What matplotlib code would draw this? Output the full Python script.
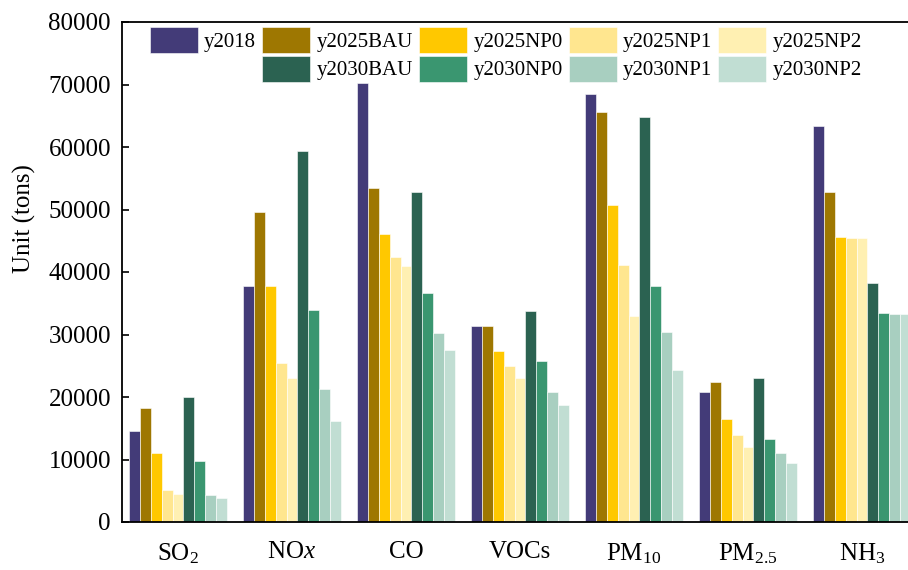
import numpy as np
import matplotlib
matplotlib.use("Agg")
import matplotlib.pyplot as plt
from matplotlib.patches import Patch

plt.rcParams["font.family"] = ["Liberation Serif", "DejaVu Serif"]
plt.rcParams["mathtext.fontset"] = "custom"
plt.rcParams["mathtext.rm"] = "Liberation Serif"
plt.rcParams["mathtext.it"] = "Liberation Serif:italic"

pollutants = [r"SO$_2$", r"NO$x$", "CO", "VOCs", r"PM$_{10}$", r"PM$_{2.5}$", r"NH$_3$"]

scenarios = ["y2018", "y2025BAU", "y2025NP0", "y2025NP1", "y2025NP2",
             "y2030BAU", "y2030NP0", "y2030NP1", "y2030NP2"]

y2018     = [14600, 37700, 70300, 31300, 68500, 20800, 63300]
y2025BAU  = [18300, 49600, 53500, 31300, 65600, 22400, 52800]
y2025NP0  = [11050, 37800, 46100, 27400, 50800, 16500, 45600]
y2025NP1  = [5050, 25400, 42400, 24900, 41100, 13900, 45500]
y2025NP2  = [4500, 23000, 41000, 23100, 32900, 12050, 45500]
y2030BAU  = [20050, 59400, 52800, 33800, 64800, 23000, 38200]
y2030NP0  = [9800, 33900, 36600, 25700, 37700, 13300, 33400]
y2030NP1  = [4300, 21300, 30300, 20800, 30400, 11000, 33300]
y2030NP2  = [3800, 16200, 27500, 18800, 24300, 9450, 33300]

values = [y2018, y2025BAU, y2025NP0, y2025NP1, y2025NP2,
          y2030BAU, y2030NP0, y2030NP1, y2030NP2]

colors = ["#433b78", "#9e7701", "#ffc800", "#ffe68f", "#fff0b2",
          "#2b6251", "#3a9670", "#a8cfc0", "#c1ded3"]

fig = plt.figure(figsize=(9.08, 5.70), dpi=100)
ax = fig.add_axes([122 / 908, 48 / 570, 796 / 908, 500 / 570])

x = np.arange(len(pollutants))
w = 0.0956
bars = []
for i, (vals, c) in enumerate(zip(values, colors)):
    b = ax.bar(x + (i - 4) * w, vals, width=w, color=c,
               edgecolor="white", linewidth=0.4)
    bars.append(b)

ax.set_xlim(-0.491, 6.491)
ax.set_ylim(0, 80000)
ax.set_yticks(np.arange(0, 80001, 10000))
ax.set_xticks(x)
ax.set_xticklabels(pollutants)
ax.tick_params(axis="y", direction="in", length=5, width=1.2, labelsize=18, pad=8)
ax.tick_params(axis="x", length=0, labelsize=18, pad=14)
for s in ax.spines.values():
    s.set_linewidth(1.3)
ax.set_ylabel("Unit (tons)", fontsize=18)
ax.yaxis.set_label_coords(-0.108, 0.606)

# blank slot so 2030 entries sit under the 2025 ones
blank = Patch(facecolor="none", edgecolor="none")
handles = [bars[0], blank, bars[1], bars[5], bars[2], bars[6],
           bars[3], bars[7], bars[4], bars[8]]
labels = ["y2018", "", "y2025BAU", "y2030BAU", "y2025NP0", "y2030NP0",
          "y2025NP1", "y2030NP1", "y2025NP2", "y2030NP2"]
ax.legend(handles, labels, ncol=5, frameon=False, fontsize=15,
          loc="upper left", bbox_to_anchor=(0.035, 0.99),
          borderaxespad=0, borderpad=0, handlelength=2.3, handleheight=1.55,
          handletextpad=0.3, columnspacing=0.3, labelspacing=0.12)

fig.savefig("out.png", dpi=100)
